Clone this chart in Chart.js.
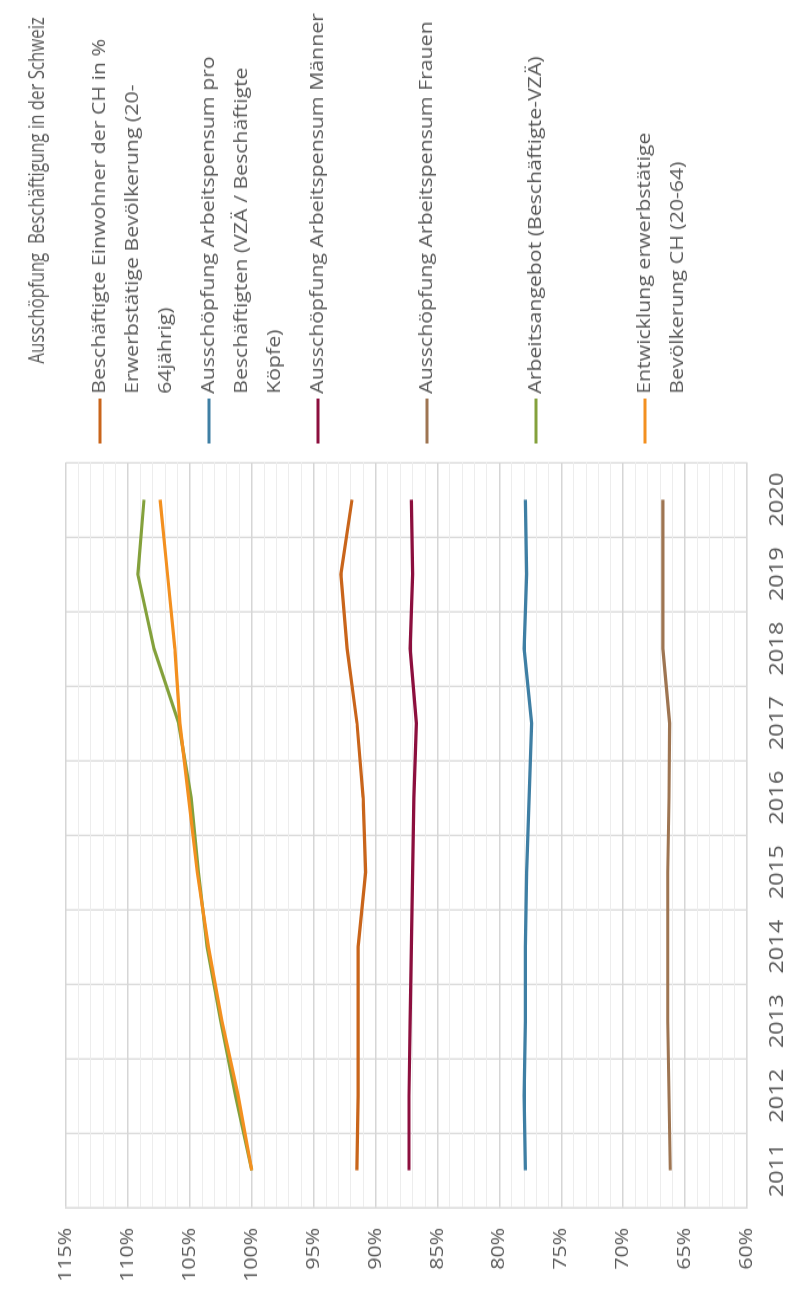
<!DOCTYPE html>
<html>
<head>
<meta charset="utf-8">
<script src="https://cdn.jsdelivr.net/npm/chart.js@4/dist/chart.umd.min.js"></script>
<style>
  html, body { margin: 0; padding: 0; background: #fff; width: 792px; height: 1301px; overflow: hidden; }
  #wrap {
    position: absolute; left: 0; top: 0;
    width: 1100px; height: 792px;
    transform-origin: 0 0;
    transform: translateY(1301px) rotate(-90deg) scaleX(1.18273);
  }
</style>
</head>
<body>
<div id="wrap"><canvas id="chartSchweiz" width="1100" height="792"></canvas></div>
<script>
var years = ['2011', '2012', '2013', '2014', '2015', '2016', '2017', '2018', '2019', '2020'];

var einwohnerData = [91.5, 91.4, 91.4, 91.4, 90.8, 91.0, 91.5, 92.3, 92.8, 91.9];
var pensumData    = [77.9, 78.0, 77.9, 77.9, 77.8, 77.6, 77.4, 78.0, 77.8, 77.9];
var maennerData   = [87.3, 87.3, 87.2, 87.1, 87.0, 86.9, 86.7, 87.2, 87.0, 87.1];
var frauenData    = [66.2, 66.3, 66.4, 66.4, 66.4, 66.3, 66.25, 66.8, 66.8, 66.8];
var angebotData   = [100, 101.3, 102.5, 103.6, 104.3, 104.9, 105.9, 107.9, 109.2, 108.7];
var bevoelkData   = [100, 101.1, 102.4, 103.5, 104.4, 105.1, 105.8, 106.2, 106.8, 107.4];

var seriesNames = [
    ['Beschäftigte Einwohner der CH in %', 'Erwerbstätige Bevölkerung (20-', '64jährig)'],
    ['Ausschöpfung Arbeitspensum pro', 'Beschäftigten (VZÄ / Beschäftigte', 'Köpfe)'],
    ['Ausschöpfung Arbeitspensum Männer'],
    ['Ausschöpfung Arbeitspensum Frauen'],
    ['Arbeitsangebot (Beschäftigte-VZÄ)'],
    ['Entwicklung erwerbstätige', 'Bevölkerung CH (20-64)']
];

var titleText = 'Ausschöpfung  Beschäftigung in der Schweiz';

var textColor = '#595959';
var fontName = "'Open Sans', sans-serif";

// title + wrapped legend, drawn by hand (chart is turned on its side)
var sideStuff = {
    id: 'sideStuff',
    afterDraw: function(chart) {
        var ctx = chart.ctx;
        ctx.save();
        ctx.fillStyle = textColor;
        ctx.font = '21px ' + fontName;
        ctx.textAlign = 'center';
        ctx.textBaseline = 'middle';
        var w = ctx.measureText(titleText).width;
        ctx.translate(939, 38);
        ctx.scale(293 / w, 1);
        ctx.fillText(titleText, 0, 0);
        ctx.restore();

        ctx.save();
        ctx.font = '18px ' + fontName;
        ctx.textAlign = 'left';
        ctx.textBaseline = 'middle';
        chart.data.datasets.forEach(function(ds, i) {
            var v = 100 + i * 109;
            ctx.strokeStyle = ds.borderColor;
            ctx.lineWidth = 3;
            ctx.beginPath();
            ctx.moveTo(725, v);
            ctx.lineTo(763, v);
            ctx.stroke();
            ctx.fillStyle = textColor;
            seriesNames[i].forEach(function(line, k) {
                ctx.fillText(line, 767, v + k * 32.7);
            });
        });
        ctx.restore();
    }
};

function mkSet(i, data, color) {
    return {
        label: seriesNames[i].join(' '),
        data: data,
        borderColor: color,
        backgroundColor: 'transparent',
        borderWidth: 3.2,
        pointRadius: 0,
        tension: 0,
        order: 5 - i
    };
}

var ctx = document.getElementById('chartSchweiz').getContext('2d');
var chart = new Chart(ctx, {
    type: 'line',
    data: {
        labels: years,
        datasets: [
            mkSet(0, einwohnerData, '#c9651b'),
            mkSet(1, pensumData, '#3f7fa4'),
            mkSet(2, maennerData, '#8c0f3e'),
            mkSet(3, frauenData, '#9e7552'),
            mkSet(4, angebotData, '#84a13c'),
            mkSet(5, bevoelkData, '#f39020')
        ]
    },
    options: {
        responsive: false,
        animation: false,
        layout: { padding: { left: 0, top: 66, right: 391, bottom: 0 } },
        plugins: {
            legend: { display: false },
            title: { display: false },
            tooltip: { enabled: false }
        },
        scales: {
            x: {
                offset: true,
                grid: { offset: true, color: '#d9d9d9', lineWidth: 1.3, drawTicks: false },
                border: { color: '#d9d9d9', width: 1.3 },
                ticks: {
                    color: textColor,
                    font: { family: fontName, size: 20 },
                    padding: 18,
                    maxRotation: 0
                },
                afterFit: function(scale) { scale.height = 45; }
            },
            y: {
                min: 60,
                max: 115,
                grid: {
                    drawTicks: false,
                    color: function(c) { return c.tick && c.tick.value % 5 === 0 ? '#d6d6d6' : '#ededed'; },
                    lineWidth: function(c) { return c.tick && c.tick.value % 5 === 0 ? 1.5 : 1; }
                },
                border: { color: '#d9d9d9', width: 1.3 },
                ticks: {
                    stepSize: 1,
                    maxTicksLimit: 100,
                    autoSkip: false,
                    color: textColor,
                    font: { family: fontName, size: 18 },
                    padding: 17,
                    callback: function(v) { return v % 5 === 0 ? v + '%' : ''; }
                },
                afterFit: function(scale) { scale.width = 79; }
            }
        }
    },
    plugins: [sideStuff]
});
</script>
</body>
</html>
